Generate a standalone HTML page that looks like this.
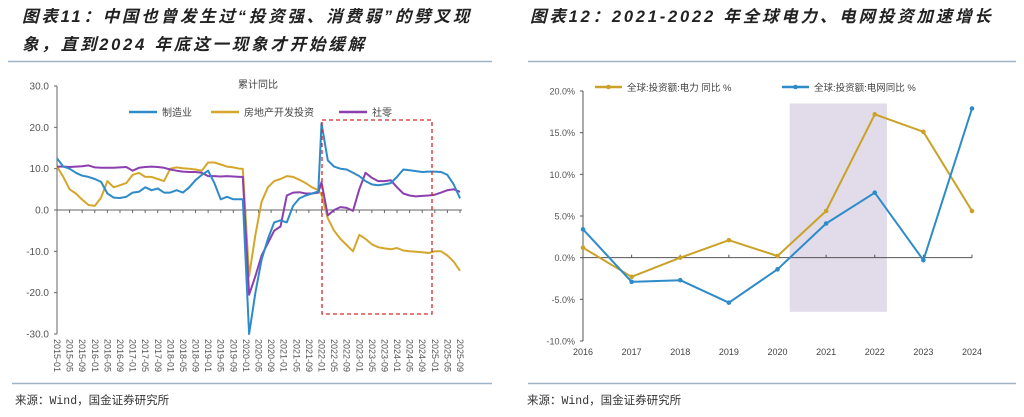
<!DOCTYPE html>
<html><head><meta charset="utf-8">
<style>
html,body{margin:0;padding:0;background:#fff;}
body{width:1024px;height:417px;overflow:hidden;position:relative;font-family:"Liberation Sans","Noto Sans CJK SC",sans-serif;}
.title{position:absolute;font-weight:bold;font-style:italic;font-size:16.5px;color:#222;line-height:28px;letter-spacing:2.8px;white-space:nowrap;}
.src{position:absolute;top:392px;font-size:11.5px;color:#333;font-family:"Liberation Mono","Noto Sans CJK SC",monospace;}
svg{position:absolute;left:0;top:0;}
</style></head>
<body>
<div class="title" style="left:22px;top:3px;">图表11：中国也曾发生过“投资强、消费弱”的劈叉现<br>象，直到2024 年底这一现象才开始缓解</div>
<div class="title" style="left:530px;top:3px;">图表12：2021-2022 年全球电力、电网投资加速增长</div>
<div class="src" style="left:15px;">来源：Wind，国金证券研究所</div>
<div class="src" style="left:527px;">来源：Wind，国金证券研究所</div>
<svg id="svg" width="1024" height="417" xmlns="http://www.w3.org/2000/svg"></svg>
<script>
// ---- Left chart data (month index from 2015-01) ----
const leftMonths = [0,2,4,6,8,10,12,14,16,18,20,22,24,26,28,30,32,34,36,38,40,42,44,46,48,50,52,54,56,58,59,61,63,65,67,69,71,73,75,77,79,81,83,84,86,88,90,92,94,96,98,100,102,104,106,108,110,112,114,116,118,120,122,124,126,128];
const mfgValues = [12.5,10.5,10,9,8.3,8,7.5,6.8,4,3,2.9,3.2,4.2,4.4,5.5,4.8,5.2,4.2,4.2,4.8,4.2,5.5,7.2,8.5,9.5,6.5,2.6,3.2,2.6,2.6,2.6,-30,-20,-12,-7,-3,-2.5,-3,1,2.8,3.5,4,4.5,21,12,10.5,10,9.8,9,8.2,7,6.2,6,6.2,6.5,8,9.8,9.6,9.4,9.2,9.3,9.3,9.2,8.5,6.2,2.8];
const reValues = [10.5,8,5,4,2.5,1.2,1,3,7,5.5,6,6.5,8.5,9,8,8,7.5,7,10,10.3,10.1,10,9.8,9.5,11.5,11.5,11,10.5,10.3,10,10,-16,-6,2,5.5,7,7.5,8.2,8,7.3,6.5,5.5,4.8,3.7,-2,-5,-7,-8.5,-10,-6,-7,-8.3,-9,-9.3,-9.5,-9.2,-9.8,-10,-10.1,-10.2,-10.4,-10,-10,-11,-12.5,-14.7];
const retailValues = [10.5,10.5,10.4,10.5,10.6,10.8,10.3,10.2,10.2,10.2,10.3,10.4,9.5,10.2,10.4,10.5,10.4,10.2,9.8,9.5,9.3,9.2,9.2,9,8.2,8.2,8.1,8.2,8.1,8,8,-20.5,-16,-11,-8,-5,-4,3.5,4.2,4.3,4,4,4.2,6.7,-1.3,0,0.7,0.5,-0.2,5,9,7.8,7,7,7.2,5.5,4,3.5,3.3,3.4,3.5,3.7,4.2,4.8,5,4.4];
const leftYTicks = [30,20,10,0,-10,-20,-30];
const leftXLabels = ["2015-01","2015-05","2015-09","2016-01","2016-05","2016-09","2017-01","2017-05","2017-09","2018-01","2018-05","2018-09","2019-01","2019-05","2019-09","2020-01","2020-05","2020-09","2021-01","2021-05","2021-09","2022-01","2022-05","2022-09","2023-01","2023-05","2023-09","2024-01","2024-05","2024-09","2025-01","2025-05","2025-09"];
// ---- Right chart data ----
const years = ["2016","2017","2018","2019","2020","2021","2022","2023","2024"];
const powerValues = [1.2,-2.3,0,2.1,0.2,5.6,17.2,15.1,5.6];
const gridValues = [3.4,-2.9,-2.7,-5.4,-1.4,4.1,7.8,-0.3,17.9];
const rightYTicks = [20,15,10,5,0,-5,-10];

const NS="http://www.w3.org/2000/svg";
const svg=document.getElementById('svg');
function mk(tag,attrs,parent){const e=document.createElementNS(NS,tag);for(const k in attrs)e.setAttribute(k,attrs[k]);(parent||svg).appendChild(e);return e;}

let e;
e=mk('line',{x1:8,y1:61.5,x2:492,y2:61.5,stroke:'#9fb3c8','stroke-width':1.5});


e=mk('line',{x1:528,y1:61.5,x2:1016,y2:61.5,stroke:'#9fb3c8','stroke-width':1.5});


e=mk('line',{x1:12,y1:383.5,x2:492,y2:383.5,stroke:'#9fb3c8','stroke-width':1.5});


e=mk('line',{x1:528,y1:383.5,x2:1016,y2:383.5,stroke:'#9fb3c8','stroke-width':1.5});



// ---- Left chart ----
const L={x0:57,x1:460,yTop:86,yBot:334,vMax:30,vMin:-30,mMax:128};
const lx=m=>L.x0+(m/L.mMax)*(L.x1-L.x0);
const ly=v=>L.yTop+(L.vMax-v)/(L.vMax-L.vMin)*(L.yBot-L.yTop);
const lg=mk('g',{});


e=mk('line',{x1:L.x0,y1:L.yTop,x2:L.x0,y2:L.yBot,stroke:'#666','stroke-width':1},lg);


leftYTicks.forEach(v=>{
  const t=mk('line',{x1:L.x0-3,y1:ly(v),x2:L.x0,y2:ly(v),stroke:'#666'},lg);
  
  
  const tx=mk('text',{x:L.x0-8,y:ly(v)+3.5,'text-anchor':'end','font-size':10,fill:'#555'},lg);
  tx.textContent=v.toFixed(1);
  
  
});
e=mk('line',{x1:L.x0,y1:ly(0),x2:L.x1+2,y2:ly(0),stroke:'#666','stroke-width':1},lg);


leftXLabels.forEach((s,i)=>{
  const x=lx(i*4);
  const t=mk('line',{x1:x,y1:ly(0),x2:x,y2:ly(0)+3,stroke:'#666'},lg);
  
  
  const tx=mk('text',{x:0,y:0,'font-size':9,fill:'#555',transform:`translate(${x-3},339) rotate(90)`},lg);
  tx.textContent=s;
  
  
});
function lline(vals,color,name){
  const d=vals.map((v,i)=>(i?'L':'M')+lx(leftMonths[i]).toFixed(1)+','+ly(v).toFixed(1)).join('');
  const p=mk('path',{d,fill:'none',stroke:color,'stroke-width':2,'stroke-linejoin':'round'},lg);
  
  
}
lline(reValues,'#d4a72c','line-real-estate-investment');
lline(retailValues,'#8c3fb0','line-retail-sales');
lline(mfgValues,'#2e8bc9','line-manufacturing');
e=mk('rect',{x:322,y:120,width:110,height:194,fill:'none',stroke:'#d42a2a','stroke-width':1.3,'stroke-dasharray':'4,3'},lg);


e=mk('text',{x:258,y:88,'text-anchor':'middle','font-size':10,fill:'#444'},lg);
e.textContent='累计同比';


[[129,'#2e8bc9','制造业','legend-manufacturing'],[211,'#d4a72c','房地产开发投资','legend-real-estate'],[339,'#8c3fb0','社零','legend-retail']].forEach(([x,c,t,n])=>{
  const g=mk('g',{},lg);
  
  
  mk('line',{x1:x,y1:112,x2:x+28,y2:112,stroke:c,'stroke-width':2.5},g);
  const tx=mk('text',{x:x+33,y:116,'font-size':10,fill:'#444'},g);
  tx.textContent=t;
});

// ---- Right chart ----
const R={x0:583,x1:972,yTop:91,yBot:341,vMax:20,vMin:-10};
const rx=i=>R.x0+i*(R.x1-R.x0)/(years.length-1);
const ry=v=>R.yTop+(R.vMax-v)/(R.vMax-R.vMin)*(R.yBot-R.yTop);
const rg=mk('g',{});


e=mk('rect',{x:rx(4.25),y:ry(18.5),width:rx(6.25)-rx(4.25),height:ry(-6.5)-ry(18.5),fill:'#e2dcea'},rg);


e=mk('line',{x1:R.x0,y1:R.yTop,x2:R.x0,y2:R.yBot,stroke:'#555'},rg);


rightYTicks.forEach(v=>{
  const t=mk('line',{x1:R.x0-3,y1:ry(v),x2:R.x0,y2:ry(v),stroke:'#555'},rg);
  
  
  const tx=mk('text',{x:R.x0-8,y:ry(v)+3.5,'text-anchor':'end','font-size':9,fill:'#555'},rg);
  tx.textContent=v.toFixed(1)+'%';
  
  
});
e=mk('line',{x1:R.x0,y1:ry(0),x2:R.x1,y2:ry(0),stroke:'#555'},rg);


years.forEach((y,i)=>{
  const t=mk('line',{x1:rx(i),y1:ry(0),x2:rx(i),y2:ry(0)-3,stroke:'#555'},rg);
  
  
  const tx=mk('text',{x:rx(i),y:355,'text-anchor':'middle','font-size':9,fill:'#444'},rg);
  tx.textContent=y;
  
  
});
function rline(vals,color,name){
  const d=vals.map((v,i)=>(i?'L':'M')+rx(i).toFixed(1)+','+ry(v).toFixed(1)).join('');
  const p=mk('path',{d,fill:'none',stroke:color,'stroke-width':2,'stroke-linejoin':'round'},rg);
  
  
  vals.forEach((v,i)=>{
    const c=mk('circle',{cx:rx(i),cy:ry(v),r:2.3,fill:color},rg);
    
    
  });
}
rline(powerValues,'#c9a227','line-power-investment');
rline(gridValues,'#2e8bc9','line-grid-investment');
[[595,'#c9a227','全球:投资额:电力 同比 %','legend-power'],[782,'#2e8bc9','全球:投资额:电网同比 %','legend-grid']].forEach(([x,c,t,n])=>{
  const g=mk('g',{},rg);
  
  
  mk('line',{x1:x,y1:87,x2:x+27,y2:87,stroke:c,'stroke-width':2.5},g);
  mk('circle',{cx:x+13.5,cy:87,r:2.3,fill:c},g);
  const tx=mk('text',{x:x+32,y:91,'font-size':9.5,fill:'#444'},g);
  tx.textContent=t;
});
</script>
</body></html>
